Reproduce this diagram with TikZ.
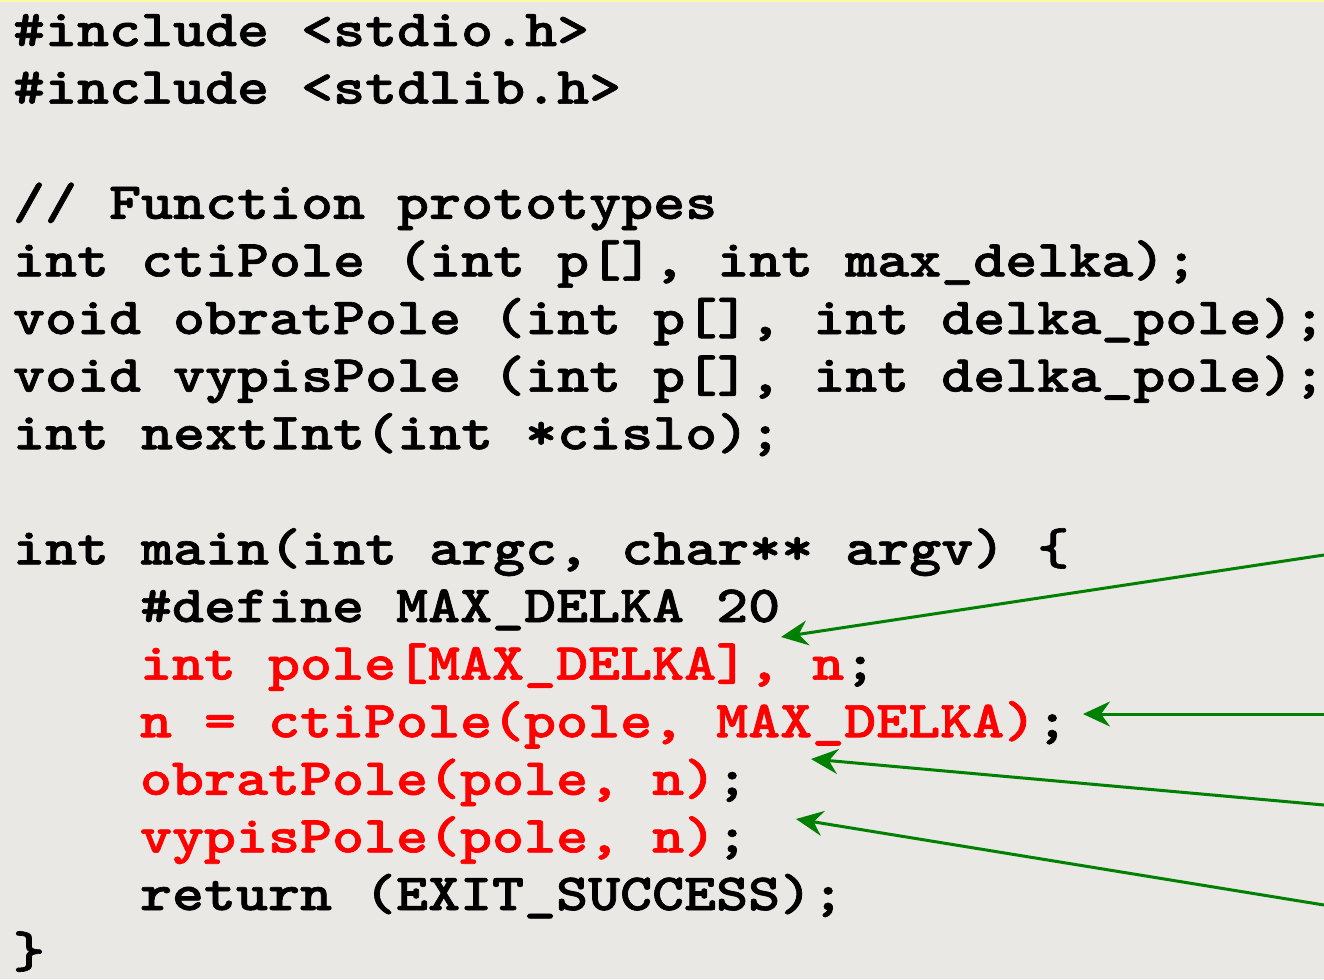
\documentclass[tikz,border=0pt]{standalone}
\usepackage{fontspec}
\newfontfamily\codefont{lmmonolt10-bold.otf}[FakeBold=1.2]
\usetikzlibrary{arrows.meta}
\definecolor{bg}{RGB}{233,232,228}
\definecolor{codered}{RGB}{255,0,0}
\definecolor{arrowgreen}{RGB}{0,128,0}
\definecolor{topline}{RGB}{250,250,165}
\newcommand{\cl}[1]{\scalebox{1.168}[1]{#1}}
\begin{document}
\begin{tikzpicture}[x=1pt,y=-1pt,
  code/.style={anchor=base west, inner sep=0pt, outer sep=0pt,
    font=\codefont\fontsize{52.2}{57.6}\selectfont\frenchspacing},
  ptr/.style={draw=arrowgreen, line width=3pt,
    -{Stealth[length=27pt,width=25pt,inset=9pt]}}]
\fill[bg] (0,0) rectangle (1324,979);
\useasboundingbox (0,0) rectangle (1324,979);
\fill[topline] (0,0) rectangle (1324,2.5);
% code lines
\node[code] (l0)  at (13,46)    {\cl{\#include <stdio.h>}};
\node[code] (l1)  at (13,103.6) {\cl{\#include <stdlib.h>}};
\node[code] (l3)  at (13,218.8) {\cl{// Function prototypes}};
\node[code] (l4)  at (13,276.4) {\cl{int ctiPole (int p[], int max\_delka);}};
\node[code] (l5)  at (13,334)   {\cl{void obratPole (int p[], int delka\_pole);}};
\node[code] (l6)  at (13,391.6) {\cl{void vypisPole (int p[], int delka\_pole);}};
\node[code] (l7)  at (13,449.2) {\cl{int nextInt(int *cislo);}};
\node[code] (l9)  at (13,564.4) {\cl{int main(int argc, char** argv) \{}};
\node[code] (l10) at (140,622)  {\cl{\#define MAX\_DELKA 20}};
\node[code] (l11) at (140,679.6) {\cl{\textcolor{codered}{int pole[MAX\_DELKA], n};}};
\node[code] (l12) at (140,737.2) {\cl{\textcolor{codered}{n = ctiPole(pole, MAX\_DELKA)};}};
\node[code] (l13) at (140,794.8) {\cl{\textcolor{codered}{obratPole(pole, n)};}};
\node[code] (l14) at (140,852.4) {\cl{\textcolor{codered}{vypisPole(pole, n)};}};
\node[code] (l15) at (140,910)  {\cl{return (EXIT\_SUCCESS);}};
\node[code] (l16) at (13,967.6) {\cl{\}}};
% arrows
\coordinate (s1) at (1324,555);
\coordinate (t1) at (781,637);
\coordinate (s2) at (1324,714);
\coordinate (t2) at (1083,714);
\coordinate (s3) at (1324,805);
\coordinate (t3) at (811,759);
\coordinate (s4) at (1324,905);
\coordinate (t4) at (796,819);
\draw[ptr] (s1) -- (t1);
\draw[ptr] (s2) -- (t2);
\draw[ptr] (s3) -- (t3);
\draw[ptr] (s4) -- (t4);
\end{tikzpicture}
\end{document}
